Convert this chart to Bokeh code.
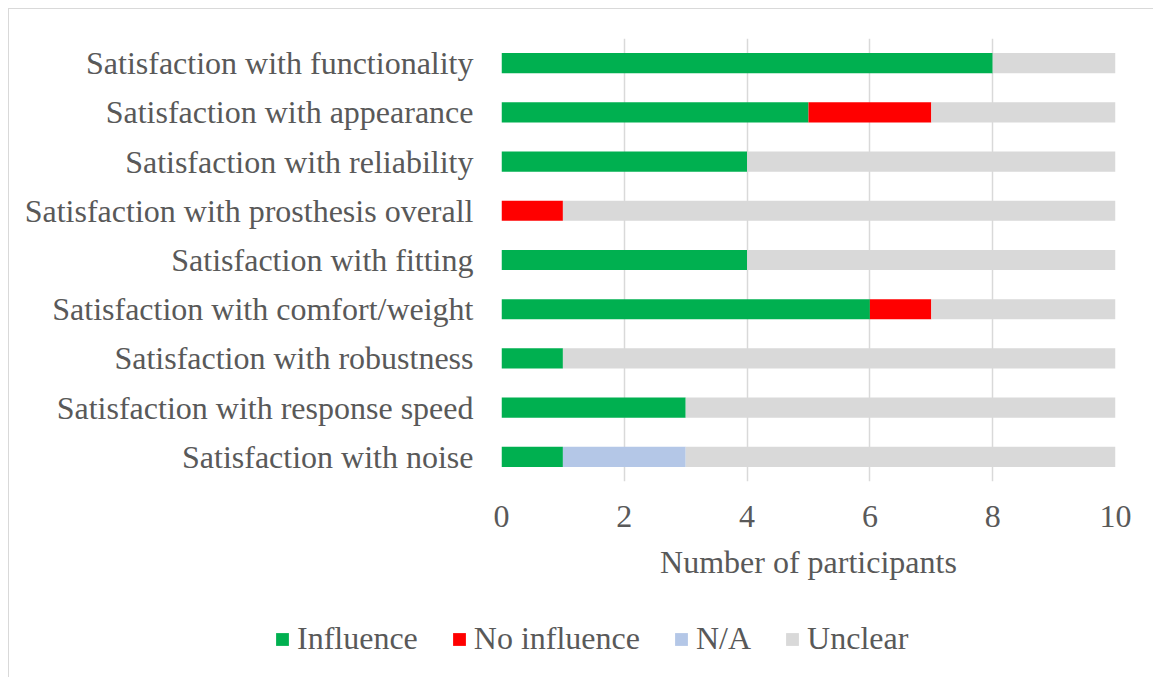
from bokeh.plotting import figure
from bokeh.layouts import column
from bokeh.models import Range1d, FixedTicker, Legend, LegendItem, ColumnDataSource
from bokeh.embed import file_html
from bokeh.resources import INLINE

categories = [
    "Satisfaction with functionality",
    "Satisfaction with appearance",
    "Satisfaction with reliability",
    "Satisfaction with prosthesis overall",
    "Satisfaction with fitting",
    "Satisfaction with comfort/weight",
    "Satisfaction with robustness",
    "Satisfaction with response speed",
    "Satisfaction with noise",
]
influence = [8, 5, 4, 0, 4, 6, 1, 3, 1]
no_influence = [0, 2, 0, 1, 0, 1, 0, 0, 0]
not_applicable = [0, 0, 0, 0, 0, 0, 0, 0, 2]
unclear = [2, 3, 6, 9, 6, 3, 9, 7, 7]
series_names = ["Influence", "No influence", "N/A", "Unclear"]
series_keys = ["influence", "no_influence", "na", "unclear"]
colors = ["#00B050", "#FF0000", "#B4C7E7", "#D9D9D9"]
x_ticks = [0, 2, 4, 6, 8, 10]

FONT = "Liberation Serif"
TXT = "#595959"

source = ColumnDataSource(data=dict(
    cat=categories,
    influence=influence,
    no_influence=no_influence,
    na=not_applicable,
    unclear=unclear,
))

p = figure(
    width=1144, height=600,
    y_range=list(reversed(categories)),
    x_range=Range1d(0, 10),
    output_backend="svg",
    toolbar_location=None,
    min_border_left=492, min_border_right=38, min_border_top=29, min_border_bottom=128,
)
p.frame_align = False

p.hbar_stack(series_keys, y="cat", height=0.41, color=colors,
             line_color=None, source=source)

p.outline_line_color = None
p.ygrid.grid_line_color = None
p.xgrid.grid_line_color = "#D9D9D9"
p.xgrid.grid_line_width = 1.5
p.xaxis.ticker = FixedTicker(ticks=x_ticks)

for ax in (p.xaxis, p.yaxis):
    ax.axis_line_color = None
    ax.major_tick_line_color = None
    ax.minor_tick_line_color = None
    ax.major_tick_out = 0
    ax.major_tick_in = 0
    ax.major_label_text_font = FONT
    ax.major_label_text_font_size = "32px"
    ax.major_label_text_color = TXT

p.yaxis.major_label_standoff = 28
p.xaxis.major_label_standoff = 24
p.xaxis.axis_label = "Number of participants"
p.xaxis.axis_label_text_font = FONT
p.xaxis.axis_label_text_font_size = "32px"
p.xaxis.axis_label_text_font_style = "normal"
p.xaxis.axis_label_text_color = TXT
p.xaxis.axis_label_standoff = 14

# legend-only figure below the chart (zero-size proxy glyphs for the swatches)
lf = figure(
    width=1144, height=68,
    x_range=Range1d(0, 1), y_range=Range1d(0, 1),
    x_axis_type=None, y_axis_type=None,
    output_backend="svg",
    toolbar_location=None,
    min_border=0,
)
lf.frame_align = False
lf.outline_line_color = None
lf.grid.visible = False
proxy = ColumnDataSource(data=dict(y=[-5], right=[-5]))
items = []
for name, col in zip(series_names, colors):
    r = lf.hbar(y="y", left="right", right="right", height=0, color=col,
                line_color=None, source=proxy)
    items.append(LegendItem(label=name, renderers=[r]))

legend = Legend(
    items=items,
    orientation="horizontal",
    location=(265, 20),
    label_text_font=FONT,
    label_text_font_size="32px",
    label_text_color=TXT,
    glyph_width=16, glyph_height=16,
    label_standoff=7,
    spacing=33,
    border_line_color=None,
    background_fill_alpha=0,
    padding=0,
    margin=0,
)
lf.add_layout(legend, "center")

layout = column(p, lf, spacing=0)
layout.styles = {
    "margin-left": "8px", "margin-top": "8px",
    "border-top": "1px solid #d9d9d9", "border-left": "1px solid #d9d9d9",
}

open("out.html", "w").write(file_html(layout, INLINE))
